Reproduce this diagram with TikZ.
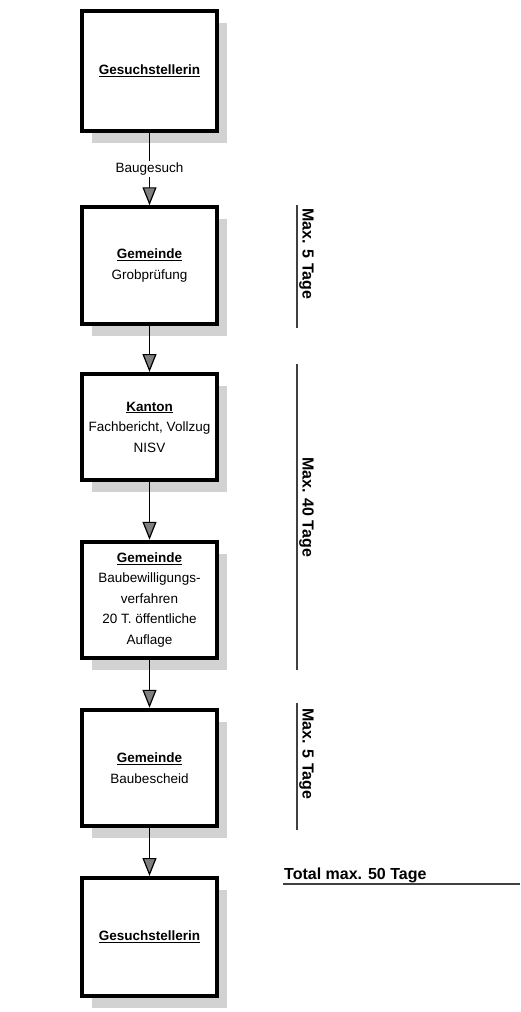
\documentclass[tikz,border=0pt]{standalone}
\usepackage{fontspec}
\setmainfont{Liberation Sans}
\usetikzlibrary{shapes,arrows.meta,positioning,shadows}
\tikzset{
    stagebox/.style={
        rectangle,
        draw,
        line width=4pt,
        fill=white,
        minimum width=135pt,
        minimum height=116.5pt,
        align=center,
        font=\fontsize{13.5}{20.5}\selectfont,
        drop shadow={shadow xshift=10pt, shadow yshift=-12pt, fill=gray!35, opacity=1}
    },
    flow/.style={
        -{Triangle[width=14pt,length=18pt,fill=black!50]},
        line width=1.2pt
    },
    daylabel/.style={
        rotate=-90,
        anchor=south west,
        inner sep=1pt,
        font=\fontsize{16}{18}\selectfont\bfseries
    },
    totallabel/.style={
        anchor=south west,
        inner sep=1pt,
        font=\fontsize{16}{18}\selectfont\bfseries
    },
    dayline/.style={
        line width=1.2pt,
        black!75
    }
}

\begin{document}
\begin{tikzpicture}[x=1pt,y=1pt]
    \useasboundingbox (0,0) rectangle (520,-1012);

    % Stages
    \node[stagebox, minimum height=120pt] (appl) at (149.5,-71) {\underline{\textbf{Gesuchstellerin}}};
    \node[stagebox] (muni) at (149.5,-265.5) {\underline{\textbf{Gemeinde}}\\Grobprüfung};
    \node[stagebox, minimum height=106pt] (canton) at (149.5,-427) {\underline{\textbf{Kanton}}\\Fachbericht, Vollzug\\NISV};
    \node[stagebox] (permit) at (149.5,-600) {\underline{\textbf{Gemeinde}}\\Baubewilligungs-\\verfahren\\20 T. öffentliche\\Auflage};
    \node[stagebox] (decision) at (149.5,-768) {\underline{\textbf{Gemeinde}}\\Baubescheid};
    \node[stagebox, minimum height=118pt] (applend) at (149.5,-937) {\underline{\textbf{Gesuchstellerin}}};

    % Connections
    \draw[flow] (appl.south) -- node[fill=white, inner sep=2pt, font=\fontsize{13.5}{15}\selectfont] (req) {Baugesuch} (muni.north);
    \draw[flow] (muni.south) -- (canton.north);
    \draw[flow] (canton.south) -- (permit.north);
    \draw[flow] (permit.south) -- (decision.north);
    \draw[flow] (decision.south) -- (applend.north);

    % Deadlines
    \coordinate (d1top) at (297,-205);
    \coordinate (d1bot) at (297,-328);
    \draw[dayline] (d1top) -- (d1bot);
    \node[daylabel] (d1) at (298,-207) {Max. 5 Tage};

    \coordinate (d2top) at (297,-364);
    \coordinate (d2bot) at (297,-670);
    \draw[dayline] (d2top) -- (d2bot);
    \node[daylabel] (d2) at (298,-456) {Max. 40 Tage};

    \coordinate (d3top) at (297,-703);
    \coordinate (d3bot) at (297,-830);
    \draw[dayline] (d3top) -- (d3bot);
    \node[daylabel] (d3) at (298,-707) {Max. 5 Tage};

    \node[totallabel] (total) at (283,-884) {Total max. 50 Tage};
    \coordinate (totend) at (520,-884);
    \draw[dayline] (total.south west) -- (totend);
\end{tikzpicture}
\end{document}
